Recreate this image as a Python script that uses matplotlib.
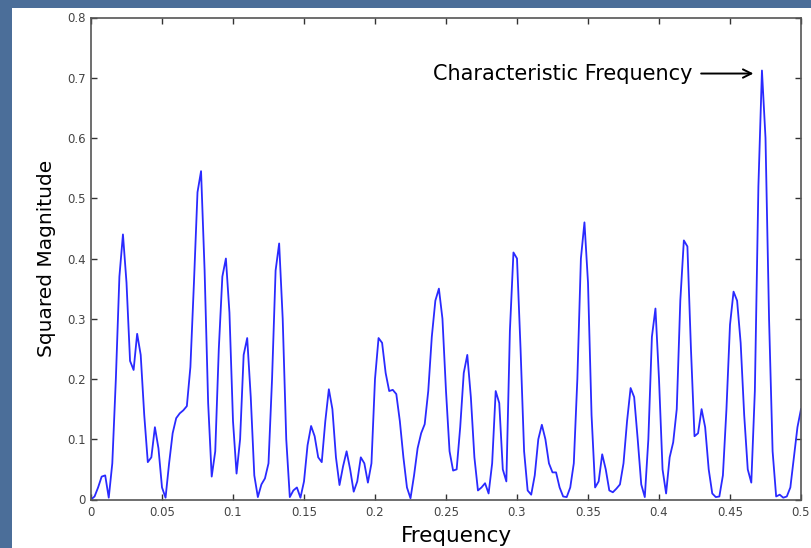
import numpy as np
import matplotlib
matplotlib.use("Agg")
import matplotlib.pyplot as plt
from matplotlib.patches import Rectangle

# Frequency grid step 0.0025 from 0 to 0.5
freq_start = 0.0
freq_step = 0.0025
squared_magnitude = [
    0.000, 0.005, 0.020, 0.038, 0.040, 0.003, 0.060, 0.200, 0.370, 0.440,
    0.360, 0.230, 0.215, 0.275, 0.240, 0.140, 0.062, 0.070, 0.120, 0.085,
    0.020, 0.003, 0.060, 0.110, 0.135, 0.143, 0.148, 0.155, 0.220, 0.360,
    0.510, 0.545, 0.380, 0.160, 0.038, 0.080, 0.250, 0.370, 0.400, 0.310,
    0.130, 0.043, 0.100, 0.240, 0.268, 0.170, 0.040, 0.004, 0.025, 0.035,
    0.060, 0.200, 0.380, 0.425, 0.300, 0.100, 0.004, 0.015, 0.020, 0.003,
    0.030, 0.090, 0.122, 0.105, 0.070, 0.062, 0.130, 0.183, 0.150, 0.070,
    0.024, 0.055, 0.080, 0.050, 0.013, 0.030, 0.070, 0.060, 0.028, 0.060,
    0.200, 0.268, 0.260, 0.210, 0.180, 0.182, 0.175, 0.130, 0.070, 0.020,
    0.002, 0.040, 0.085, 0.110, 0.125, 0.180, 0.270, 0.330, 0.350, 0.300,
    0.180, 0.080, 0.048, 0.050, 0.120, 0.210, 0.240, 0.170, 0.070, 0.015,
    0.020, 0.027, 0.010, 0.060, 0.180, 0.160, 0.050, 0.030, 0.280, 0.410,
    0.400, 0.250, 0.080, 0.015, 0.008, 0.040, 0.100, 0.124, 0.100, 0.060,
    0.045, 0.045, 0.020, 0.005, 0.004, 0.020, 0.060, 0.200, 0.400, 0.460,
    0.360, 0.140, 0.020, 0.030, 0.075, 0.050, 0.015, 0.012, 0.018, 0.025,
    0.060, 0.130, 0.185, 0.170, 0.100, 0.025, 0.004, 0.100, 0.270, 0.317,
    0.200, 0.050, 0.010, 0.070, 0.095, 0.150, 0.330, 0.430, 0.420, 0.250,
    0.105, 0.110, 0.150, 0.120, 0.050, 0.010, 0.004, 0.005, 0.040, 0.150,
    0.290, 0.345, 0.330, 0.260, 0.140, 0.050, 0.028, 0.180, 0.520, 0.712,
    0.600, 0.300, 0.080, 0.005, 0.008, 0.003, 0.005, 0.020, 0.070, 0.120,
    0.150,
]
freq = freq_start + freq_step * np.arange(len(squared_magnitude))

xticks = [0, 0.05, 0.1, 0.15, 0.2, 0.25, 0.3, 0.35, 0.4, 0.45, 0.5]
xticklabels = ['0', '0.05', '0.1', '0.15', '0.2', '0.25', '0.3', '0.35', '0.4', '0.45', '0.5']
yticks = [0, 0.1, 0.2, 0.3, 0.4, 0.5, 0.6, 0.7, 0.8]
yticklabels = ['0', '0.1', '0.2', '0.3', '0.4', '0.5', '0.6', '0.7', '0.8']
annotation_text = 'Characteristic Frequency'
annotation_target = (0.4665, 0.707)

W, H = 812, 548
fig = plt.figure(figsize=(W / 100, H / 100), dpi=100)
fig.patch.set_facecolor('#4b6e99')
panel = Rectangle((12 / W, 0), 1 - 12 / W, 1 - 8 / H,
                  transform=fig.transFigure, facecolor='white',
                  edgecolor='none', zorder=-10)
fig.add_artist(panel)

ax = fig.add_axes([91 / W, 48.5 / H, 710 / W, 482 / H])
ax.set_zorder(5)
ax.plot(freq, squared_magnitude, color='#2a2aff', lw=1.3)
ax.set_xlim(0, 0.5)
ax.set_ylim(0, 0.8)
ax.set_xticks(xticks)
ax.set_xticklabels(xticklabels)
ax.set_yticks(yticks)
ax.set_yticklabels(yticklabels)
ax.tick_params(direction='in', top=True, right=True, length=4, width=1,
               color='#333333', labelsize=8.5, labelcolor='#444444')
ax.tick_params(axis='x', pad=5)
ax.tick_params(axis='y', pad=4)
for lab in ax.get_xticklabels() + ax.get_yticklabels():
    lab.set_family('DejaVu Sans')
for s in ax.spines.values():
    s.set_color('#555555')
    s.set_linewidth(1.2)

ax.set_xlabel('Frequency', family='DejaVu Sans', fontsize=15.5, labelpad=2)
ax.xaxis.set_label_coords(0.515, -0.055)
ax.set_ylabel('Squared Magnitude', family='DejaVu Sans', fontsize=14.5, labelpad=8)

ax.annotate(annotation_text, xy=annotation_target, xytext=(0.4238, 0.707),
            ha='right', va='center', fontsize=15, family='DejaVu Sans',
            arrowprops=dict(arrowstyle='->', color='black', lw=1.4,
                            shrinkA=4, shrinkB=0))

fig.savefig('out.png', dpi=100, facecolor=fig.get_facecolor())
